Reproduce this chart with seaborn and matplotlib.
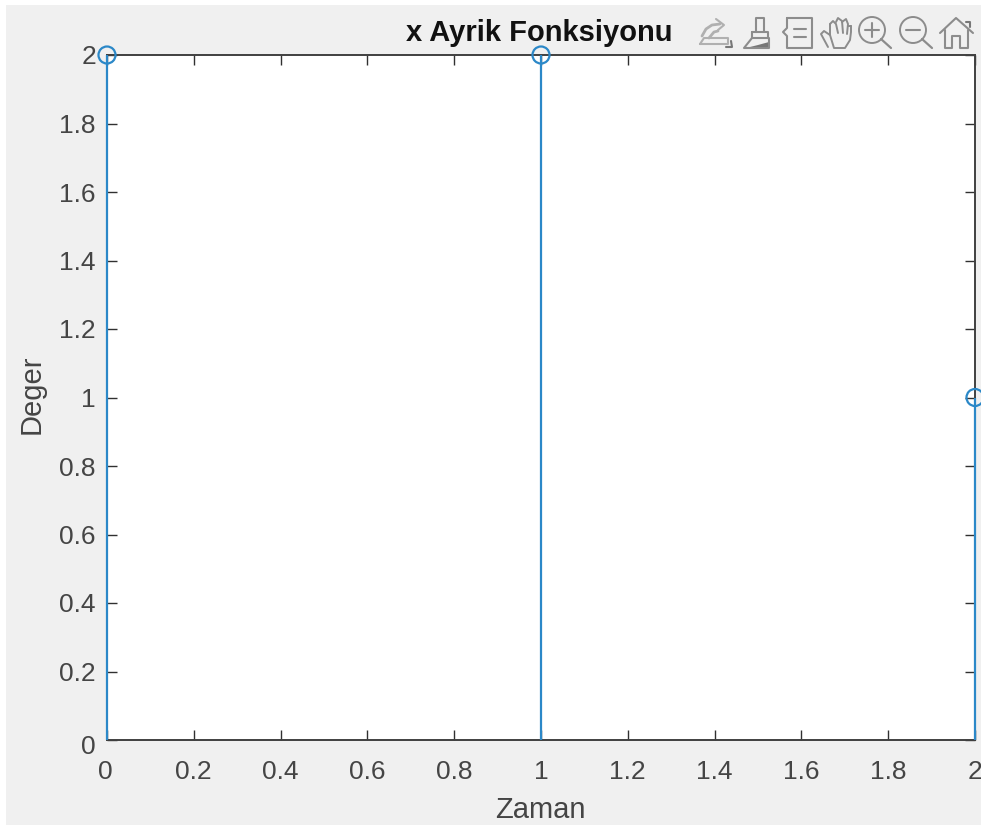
import matplotlib
matplotlib.use("Agg")
import matplotlib.pyplot as plt
import matplotlib.patches as mpatches
from matplotlib.lines import Line2D
from matplotlib.transforms import Affine2D, ScaledTranslation
import pandas as pd
import seaborn as sns

zaman = [0, 1, 2]
deger = [2, 2, 1]
xticks = [0, 0.2, 0.4, 0.6, 0.8, 1, 1.2, 1.4, 1.6, 1.8, 2]
yticks = [0, 0.2, 0.4, 0.6, 0.8, 1, 1.2, 1.4, 1.6, 1.8, 2]
xlabels = ['0', '0.2', '0.4', '0.6', '0.8', '1', '1.2', '1.4', '1.6', '1.8', '2']
ylabels = ['0', '0.2', '0.4', '0.6', '0.8', '1', '1.2', '1.4', '1.6', '1.8', '2']

W, H = 981, 825
BLUE = '#2b88c8'
TXT = '#454545'
ICON = '#8c8c8c'

sns.set_theme(style='ticks')
plt.rcParams['font.family'] = ['Liberation Sans', 'DejaVu Sans']

df = pd.DataFrame({'Zaman': zaman, 'Deger': deger})

fig = plt.figure(figsize=(W / 100, H / 100), dpi=100, facecolor='white')
px = Affine2D().scale(1, -1).translate(0, H)  # pixel coords, y going down


def pline(xs, ys, lw=1.5, color=ICON):
    fig.add_artist(Line2D(xs, ys, transform=px, color=color, lw=lw,
                          solid_capstyle='round', solid_joinstyle='round'))


# grey window background
fig.add_artist(mpatches.Rectangle((6, 5), W - 6, H - 5, transform=px,
                                  facecolor='#f0f0f0', edgecolor='none', zorder=-5))

ax = fig.add_axes([107 / W, 1 - 740 / H, (975 - 107) / W, (740 - 55) / H])
ax.set_facecolor('white')

# stems, then circles on top
ax.vlines(df['Zaman'], 0, df['Deger'], color=BLUE, lw=1.6, clip_on=False, zorder=3)
sns.scatterplot(data=df, x='Zaman', y='Deger', ax=ax, marker='o', s=150,
                facecolor='none', edgecolor=BLUE, linewidth=1.6,
                clip_on=False, zorder=4)

ax.set_xlim(0, 2)
ax.set_ylim(0, 2)
ax.set_xticks(xticks)
ax.set_xticklabels(xlabels)
ax.set_yticks(yticks)
ax.set_yticklabels(ylabels)
ax.tick_params(axis='both', direction='in', length=7, width=1, color='#303030',
               labelsize=19, labelcolor=TXT, top=True, right=True)
ax.tick_params(axis='x', pad=14.5)
ax.tick_params(axis='y', pad=8)
for s in ax.spines.values():
    s.set_visible(True)
    s.set_linewidth(1.4)
    s.set_color('#404040')

# the two zeros sit a bit off their ticks
ylab0 = ax.get_yticklabels()[0]
ylab0.set_transform(ylab0.get_transform() + ScaledTranslation(0, -5 / 100, fig.dpi_scale_trans))
xlab0 = ax.get_xticklabels()[0]
xlab0.set_transform(xlab0.get_transform() + ScaledTranslation(-2 / 100, 0, fig.dpi_scale_trans))

ax.set_xlabel('Zaman', fontsize=21, color=TXT, va='center')
ax.set_ylabel('Deger', fontsize=21, color=TXT, va='center')
ax.xaxis.set_label_coords(0.499, -0.102)
ax.yaxis.set_label_coords(-0.0864, 0.505)
fig.text(539 / W, 1 - 33 / H, 'x Ayrik Fonksiyonu', fontsize=21, fontweight='bold',
         color='#111111', ha='center', va='center')

# toolbar icons
# edit arrow
pline([702, 706, 712, 720], [36, 29, 25, 24], color='#b0b0b0', lw=2)
pline([716, 724, 718], [19, 25, 30], color='#b0b0b0')
pline([709, 714, 718], [38, 32, 31], color='#b0b0b0', lw=2)
pline([700, 728, 728, 704, 700], [44, 44, 38, 38, 44], color='#b0b0b0')
pline([726, 732, 731], [47, 47, 41], color='#777777')
# brush
pline([756, 756, 764, 764], [32, 18, 18, 32])
pline([752, 768, 768, 752, 752], [32, 32, 38, 38, 32])
pline([752, 744, 769, 769], [38, 48, 48, 38])
fig.add_artist(mpatches.Polygon([(746, 48), (769, 48), (769, 42), (758, 45)], transform=px,
                                facecolor='#777777', edgecolor='none'))
# data cursor box
pline([787, 812, 812, 787, 787, 783, 787, 787], [18, 18, 48, 48, 36, 32, 28, 18])
pline([794, 806], [29, 29])
pline([794, 806], [37, 37])
# hand
pline([828, 821, 824, 830, 834, 845, 850, 851, 851],
      [47, 34, 31, 35, 48, 48, 40, 32, 26], lw=1.4)
pline([830, 830], [35, 24], lw=1.4)
pline([830, 833, 836, 838], [24, 21, 24, 33], lw=1.4)
pline([836, 838, 842, 843], [22, 18, 21, 33], lw=1.4)
pline([842, 846, 848, 847], [22, 19, 24, 34], lw=1.4)
pline([848, 851], [26, 26], lw=1.4)
# zoom in / out
for cx, plus in [(872, True), (913, False)]:
    fig.add_artist(mpatches.Circle((cx, 30), 13, transform=px, fill=False,
                                   edgecolor=ICON, lw=1.4))
    pline([cx + 9, cx + 19], [39, 48], lw=1.6)
    pline([cx - 7, cx + 7], [30, 30])
    if plus:
        pline([cx, cx], [23, 37])
# home
pline([940, 956, 973], [33, 18, 33])
pline([945, 945, 952, 952, 960, 960, 968, 968], [30, 48, 48, 36, 36, 48, 48, 30])
pline([966, 970, 970], [22, 22, 27], color='#777777')

fig.savefig('out.png', dpi=100, facecolor=fig.get_facecolor())
